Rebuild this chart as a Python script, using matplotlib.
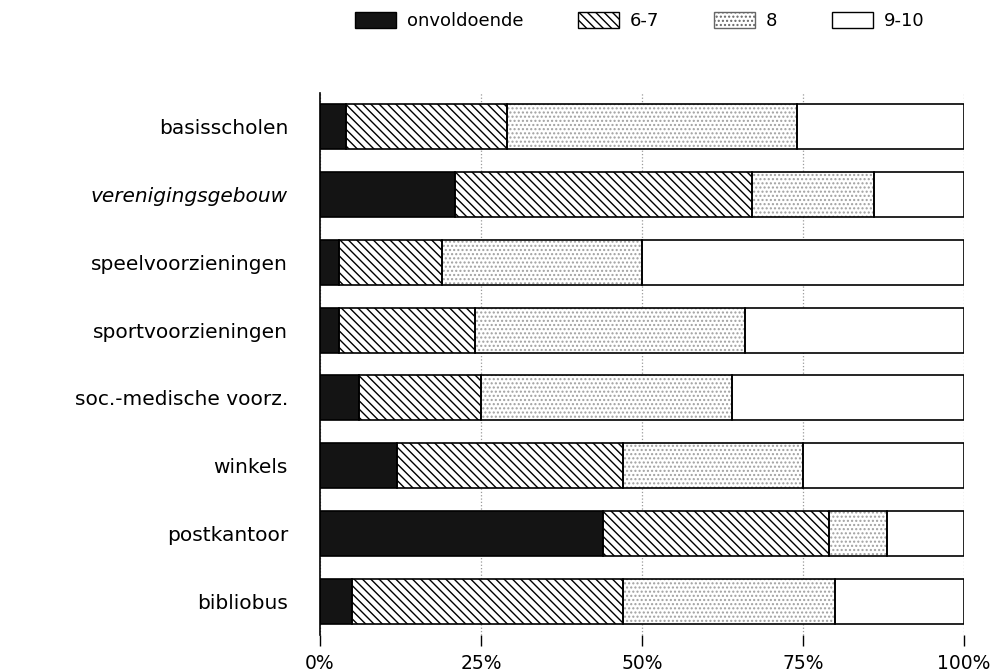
import matplotlib
matplotlib.use("Agg")
import matplotlib.pyplot as plt
from matplotlib.patches import Patch
import numpy as np

categories = ["basisscholen", "verenigingsgebouw", "speelvoorzieningen",
              "sportvoorzieningen", "soc.-medische voorz.", "winkels",
              "postkantoor", "bibliobus"]
series_names = ["onvoldoende", "6-7", "8", "9-10"]
onvoldoende = [4, 21, 3, 3, 6, 12, 44, 5]
zes_zeven = [25, 46, 16, 21, 19, 35, 35, 42]
acht = [45, 19, 31, 42, 39, 28, 9, 33]
negen_tien = [26, 14, 50, 34, 36, 25, 12, 20]
xtick_values = [0, 25, 50, 75, 100]
xtick_labels = ["0%", "25%", "50%", "75%", "100%"]

plt.rcParams['hatch.linewidth'] = 1.0

fig = plt.figure(figsize=(9.98, 6.72), dpi=100)
ax = fig.add_axes([0.3206, 0.0551, 0.966 - 0.3206, 0.8616 - 0.0551])

styles = [
    dict(face="#141414", hatch=None, hcolor="#141414"),
    dict(face="white", hatch="\\\\\\\\", hcolor="black"),
    dict(face="white", hatch="....", hcolor="#a0a0a0"),
    dict(face="white", hatch=None, hcolor="white"),
]

y = np.arange(len(categories))
h = 0.665
left = np.zeros(len(categories))
for vals, st in zip([onvoldoende, zes_zeven, acht, negen_tien], styles):
    vals = np.array(vals, dtype=float)
    ax.barh(y, vals, left=left, height=h, color=st["face"],
            hatch=st["hatch"], edgecolor=st["hcolor"], linewidth=0, zorder=2)
    ax.barh(y, vals, left=left, height=h, facecolor="none",
            edgecolor="black", linewidth=1.2, zorder=3)
    left += vals

ax.set_xlim(0, 100)
ax.set_ylim(len(categories) - 0.5, -0.5)
ax.set_yticks(y)
ax.set_yticklabels(categories, fontsize=14.5)
for lab in ax.get_yticklabels():
    if lab.get_text() == "verenigingsgebouw":
        lab.set_style("italic")
ax.set_xticks(xtick_values)
ax.set_xticklabels(xtick_labels, fontsize=13.5)
ax.tick_params(axis='y', length=0, pad=23)
ax.tick_params(axis='x', length=8, width=1.0, direction='out', pad=6)

for s in ["top", "right", "bottom"]:
    ax.spines[s].set_visible(False)
ax.spines["left"].set_linewidth(1.2)
ax.xaxis.grid(True, linestyle=":", color="#9a9a9a", linewidth=0.9)
ax.set_axisbelow(True)

handles = []
for st in styles:
    handles.append(Patch(facecolor=st["face"], hatch=st["hatch"],
                         edgecolor="black" if st["hatch"] != "...." else "#666666",
                         linewidth=1.0))
fig.legend(handles, series_names, ncol=4, loc="center",
           bbox_to_anchor=(0.641, 0.969), frameon=False, fontsize=13,
           handlelength=2.3, handleheight=1.0, columnspacing=3.0,
           handletextpad=0.6)

fig.savefig("out.png", dpi=100)
